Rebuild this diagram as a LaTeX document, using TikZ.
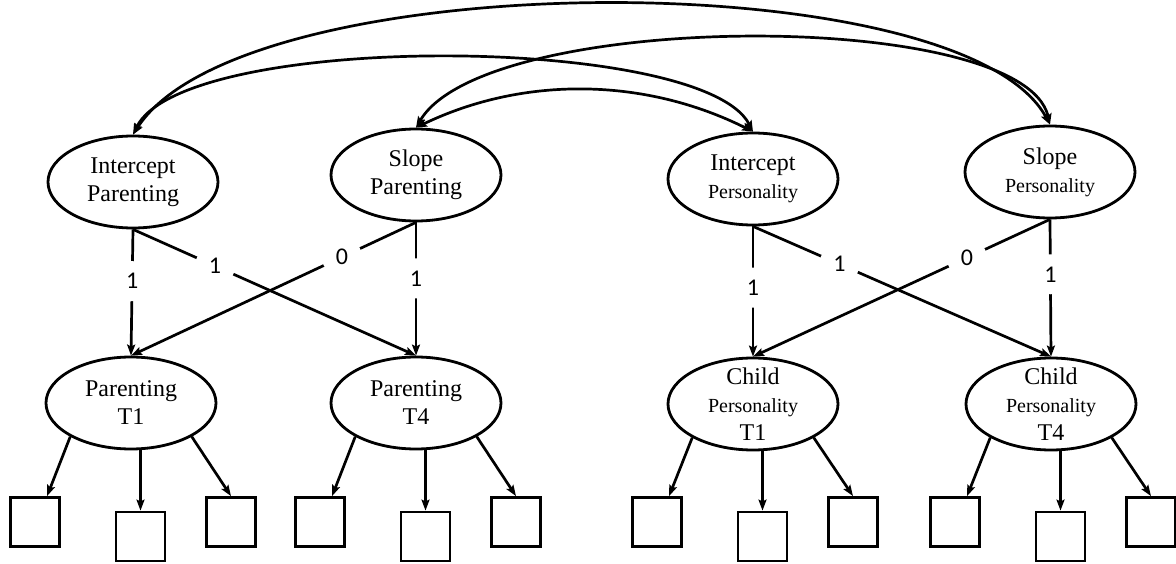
\documentclass[tikz,border=0pt]{standalone}
\usepackage{fontspec}
\setmainfont{Liberation Serif}
\newfontfamily\labfont{Carlito}
\usetikzlibrary{arrows.meta,shapes.geometric,calc}
\newcommand\persw{{\fontsize{20}{28}\selectfont Personality}}
\begin{document}
\begin{tikzpicture}[x=1pt,y=-1pt,
  txt/.style={align=center, inner sep=0pt, font=\fontsize{24}{28}\selectfont},
  lat/.style={draw, ellipse, line width=2.8pt, minimum width=170pt, minimum height=92pt, inner sep=0pt, label={[txt]center:{#1}}},
  ind/.style={draw, rectangle, line width=2.8pt, minimum size=49pt, inner sep=0pt},
  arr/.style={line width=2.7pt, -{Stealth[length=11pt,width=8pt,inset=2pt]}},
  cov/.style={line width=2.7pt, {Stealth[length=11pt,width=8pt,inset=2pt]}-{Stealth[length=11pt,width=8pt,inset=2pt]}},
  lbl/.style={circle, fill=white, inner sep=0pt, minimum size=40pt, font=\labfont\fontsize{24}{24}\selectfont}
]
\path[use as bounding box, fill=white] (0,0) rectangle (1176,564);

% growth factors
\node[lat={Intercept\\Parenting}] (ip) at (133,182) {};
\node[lat={Slope\\Parenting}] (sp) at (416,175) {};
\node[lat={Intercept\\\persw}] (ipe) at (753,179) {};
\node[lat={Slope\\\persw}] (spe) at (1050,172) {};

% measurement occasions
\node[lat={Parenting\\T1}] (pt1) at (131,403) {};
\node[lat={Parenting\\T4}] (pt4) at (416,403) {};
\node[lat={Child\\\persw\\T1}] (ct1) at (753,404) {};
\node[lat={Child\\\persw\\T4}] (ct4) at (1051,404) {};

% indicators
\node[ind] (pt1a) at (35,522) {};
\node[ind] (pt1b) at (140.5,536.5) {};
\node[ind] (pt1c) at (231,522) {};
\node[ind] (pt4a) at (320,522) {};
\node[ind] (pt4b) at (425.5,536.5) {};
\node[ind] (pt4c) at (516,522) {};
\node[ind] (ct1a) at (657,522) {};
\node[ind] (ct1b) at (762.5,536.5) {};
\node[ind] (ct1c) at (853,522) {};
\node[ind] (ct4a) at (955,522) {};
\node[ind] (ct4b) at (1060.5,536.5) {};
\node[ind] (ct4c) at (1151,522) {};

\foreach \e in {pt1,pt4,ct1,ct4}{
  \draw[arr] (\e.209) -- (\e a.65);
  \draw[arr] (\e b.north |- \e.south) -- (\e b.north);
  \draw[arr] (\e.331) -- (\e c.north);
}

% loadings
\draw[arr] (ip.south) -- node[lbl, pos=0.41] {1} (pt1.north);
\draw[arr] (ip.south) -- node[lbl, pos=0.29] {1} (pt4.north);
\draw[arr] (sp.south) -- node[lbl, pos=0.26] {0} (pt1.north);
\draw[arr] (sp.south) -- node[lbl, pos=0.42] {1} (pt4.north);
\draw[arr] (ipe.south) -- node[lbl, pos=0.47] {1} (ct1.north);
\draw[arr] (ipe.south) -- node[lbl, pos=0.29] {1} (ct4.north);
\draw[arr] (spe.south) -- node[lbl, pos=0.28] {0} (ct1.north);
\draw[arr] (spe.south) -- node[lbl, pos=0.40] {1} (ct4.north);

% covariances
\draw[cov] (ip.north) .. controls +(110,-171) and +(-88,-163) .. (spe.north);
\draw[cov] (ip.north) .. controls +(50,-103) and +(-51,-98) .. (ipe.north);
\draw[cov] (sp.north) .. controls +(70,-118) and +(-27,-117) .. (spe.north);
\draw[cov] (sp.north) .. controls +(108,-52) and +(-108,-54) .. (ipe.north);
\end{tikzpicture}
\end{document}
